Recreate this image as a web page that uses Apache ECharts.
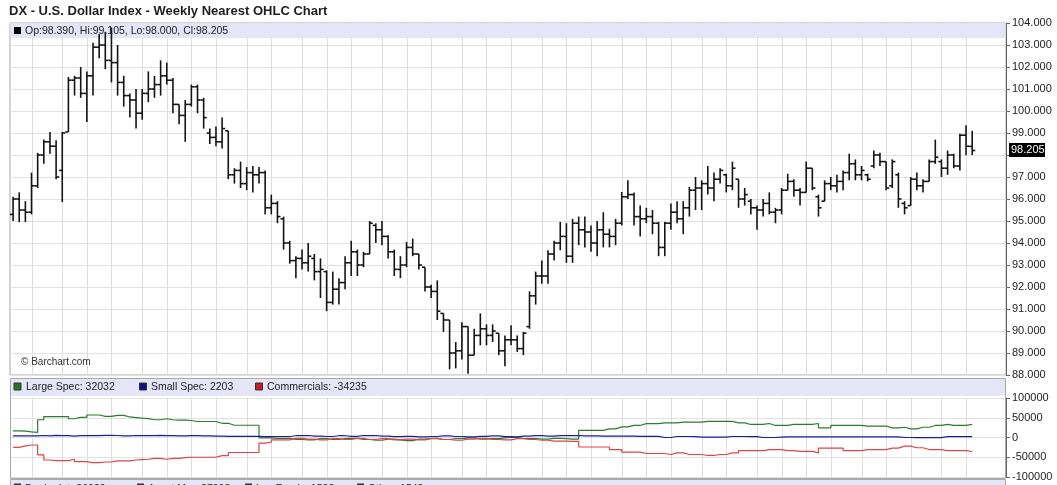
<!DOCTYPE html>
<html>
<head>
    <meta charset="utf-8">
    <title>DX - U.S. Dollar Index - Weekly Nearest OHLC Chart</title>
    <script type="text/javascript" src="https://cdn.jsdelivr.net/npm/echarts/dist/echarts.min.js"></script>
    <style type="text/css">
        html, body { margin: 0; padding: 0; background: #fff; }
        #chart { width: 1057px; height: 485px; }
    </style>
</head>
<body>
<div id="chart"></div>
<script type="text/javascript">
    // weekly bars, first bar = week of 2016-09-12
    let firstWeek = '2016-09-12';
    let emptyWeeks = 5;

    let opens = [
        95.3, 96.0, 95.5, 95.4, 96.6, 98.0, 98.6, 98.4, 97.3, 99.05,
        101.4, 101.5, 100.8, 101.6, 102.9, 103.0, 102.3, 102.2, 101.3, 100.7,
        100.5, 99.9, 100.8, 101.0, 101.2, 101.6, 101.4, 100.3, 99.8, 100.3,
        101.1, 100.5, 99.0, 98.8, 98.6, 99.1, 97.1, 97.3, 96.7, 97.2,
        97.1, 97.2, 95.6, 95.8, 95.1, 94.0, 93.2, 93.3, 93.1, 93.3,
        92.7, 92.7, 91.3, 91.9, 92.2, 93.1, 93.6, 93.0, 93.5, 94.8,
        94.6, 94.3, 93.6, 92.8, 93.0, 93.8, 93.5, 92.9, 92.0, 91.8,
        90.8, 90.5, 89.0, 89.1, 90.2, 88.9, 89.8, 90.1, 89.8, 89.9,
        89.1, 89.6, 89.6, 89.2, 90.2, 91.6, 92.5, 92.5, 93.5, 94.0,
        94.3, 93.4, 94.9, 94.6, 94.5, 94.0, 94.6, 94.4, 94.3, 94.9,
        96.1, 96.2, 95.2, 95.1, 95.2, 94.9, 93.8, 94.9, 95.4, 95.1,
        95.6, 96.4, 96.5, 96.7, 96.5, 96.9, 97.1, 96.6, 96.9, 96.0,
        95.9, 95.6, 95.5, 95.8, 95.4, 95.5, 96.4, 96.8, 96.4, 96.3,
        97.4, 96.1, 95.9, 96.7, 96.6, 96.8, 97.2, 97.6, 97.1, 97.1,
        97.5, 98.0, 97.7, 96.6, 97.1, 95.8, 95.7, 96.9, 96.6, 96.8,
        97.7, 97.7, 97.4, 98.0, 97.5, 98.9, 98.39
    ];
    let highs = [
        96.1, 96.3, 95.9, 97.2, 98.1, 98.7, 99.05, 98.67, 99.05, 101.55,
        101.6, 102.0, 101.8, 103.1, 103.5, 103.6, 103.8, 103.0, 101.6, 100.8,
        101.0, 101.0, 101.8, 101.6, 102.3, 102.2, 101.5, 100.3, 100.5, 101.2,
        101.2, 100.6, 99.2, 99.3, 99.7, 99.1, 97.4, 97.7, 97.45, 97.5,
        97.45, 97.3, 96.2, 95.9, 95.2, 94.1, 93.4, 93.7, 94.0, 93.5,
        93.3, 92.75, 92.7, 92.4, 93.4, 94.1, 93.7, 93.6, 95.0, 94.9,
        95.0, 94.35, 93.7, 93.4, 94.05, 94.2, 93.5, 92.9, 92.1, 92.3,
        90.8, 90.5, 89.5, 90.4, 90.2, 90.1, 90.8, 90.3, 90.3, 89.9,
        89.8, 90.26, 89.8, 89.96, 91.8, 92.7, 93.2, 93.67, 94.1, 94.96,
        94.9, 95.1, 95.2, 95.2, 94.8, 95.0, 95.4, 94.65, 95.1, 96.32,
        96.85, 96.3, 95.7, 95.6, 95.5, 94.96, 94.96, 95.8, 95.9, 95.9,
        96.55, 97.0, 96.85, 97.5, 97.2, 97.4, 97.15, 97.7, 96.9, 96.5,
        96.0, 95.7, 96.0, 96.3, 95.6, 96.5, 97.15, 96.9, 96.5, 97.7,
        97.4, 96.2, 96.85, 97.0, 97.1, 97.3, 98.06, 97.8, 97.5, 97.15,
        98.2, 98.1, 97.7, 97.8, 97.2, 95.9, 97.0, 97.2, 96.9, 97.8,
        98.7, 97.8, 98.2, 98.06, 98.97, 99.35, 99.105
    ];
    let lows = [
        95.0, 94.95, 94.95, 95.3, 96.5, 97.6, 98.06, 96.9, 95.86, 99.05,
        100.7, 100.6, 99.5, 100.7, 102.4, 101.9, 101.3, 100.7, 100.2, 99.7,
        99.2, 99.6, 100.4, 100.6, 100.7, 101.2, 99.9, 99.4, 98.6, 100.2,
        99.9, 99.2, 98.5, 98.4, 98.3, 96.9, 96.7, 96.5, 96.4, 96.3,
        96.7, 95.3, 95.3, 94.9, 93.7, 93.06, 92.4, 92.8, 92.7, 92.3,
        91.5, 90.9, 91.2, 91.2, 91.9, 92.5, 92.5, 92.9, 93.5, 94.0,
        93.9, 93.3, 92.5, 92.4, 92.9, 93.4, 92.8, 91.8, 91.5, 90.5,
        89.96, 88.26, 88.3, 88.7, 88.06, 88.9, 89.35, 89.35, 89.5, 88.9,
        88.4, 89.35, 89.05, 88.9, 90.1, 91.2, 92.15, 92.15, 93.2, 93.67,
        93.1, 93.1, 93.9, 93.8, 93.6, 93.4, 93.8, 93.8, 93.9, 94.8,
        96.0, 94.8, 94.3, 94.9, 94.4, 93.4, 93.4, 94.6, 94.9, 94.4,
        95.2, 95.5, 95.5, 96.2, 95.9, 96.7, 96.3, 96.4, 95.6, 95.7,
        95.3, 94.6, 95.2, 95.3, 94.9, 95.3, 96.4, 96.1, 95.7, 96.3,
        96.4, 95.2, 95.9, 96.4, 96.3, 96.4, 96.85, 96.85, 96.85, 96.8,
        97.4, 97.5, 96.4, 96.5, 95.6, 95.3, 95.7, 96.4, 96.3, 96.8,
        97.6, 97.0, 97.1, 97.4, 97.3, 97.99, 98.0
    ];
    let closes = [
        96.0, 95.5, 95.4, 96.6, 98.0, 98.6, 98.4, 97.0, 99.0, 101.4,
        101.5, 100.8, 101.6, 102.9, 103.0, 102.3, 102.2, 101.3, 100.7, 100.5,
        99.9, 100.8, 101.0, 101.2, 101.6, 101.4, 100.3, 99.8, 100.3, 101.1,
        100.5, 99.7, 98.8, 98.6, 99.2, 97.1, 97.3, 96.7, 97.2, 97.1,
        97.2, 95.6, 95.8, 95.2, 94.0, 93.2, 93.3, 93.1, 93.4, 92.7,
        92.8, 91.3, 91.9, 92.2, 93.1, 93.6, 93.0, 93.5, 94.9, 94.6,
        94.3, 93.6, 92.8, 93.0, 93.8, 93.5, 93.0, 92.0, 91.8, 90.9,
        90.5, 89.0, 89.1, 90.2, 88.9, 89.8, 90.1, 89.8, 90.0, 89.1,
        89.6, 89.6, 89.2, 89.9, 91.6, 92.5, 92.5, 93.5, 94.0, 94.3,
        93.4, 94.9, 94.6, 94.5, 94.0, 94.6, 94.4, 94.3, 94.9, 96.1,
        96.2, 95.2, 95.1, 95.2, 94.9, 93.8, 94.9, 95.4, 95.1, 95.6,
        96.4, 96.5, 96.7, 96.5, 96.9, 97.3, 96.6, 97.4, 96.0, 96.2,
        95.6, 95.5, 95.8, 95.4, 95.5, 96.4, 96.8, 96.4, 96.3, 97.4,
        96.5, 95.6, 96.7, 96.6, 96.8, 97.2, 97.6, 97.1, 97.3, 96.9,
        98.0, 97.7, 96.5, 97.7, 96.0, 95.6, 96.9, 96.6, 96.8, 97.7,
        97.9, 97.4, 98.0, 97.5, 98.9, 98.4, 98.205
    ];

    // COT net positions, weekly
    let largeSpec = [
        17000, 16000, 14000, 13000, 45000, 53000, 53000, 53000, 53000, 47500,
        51000, 51000, 57000, 57000, 53500, 53500, 56000, 56000, 52000, 50500,
        49000, 48000, 45000, 45000, 47500, 45000, 44000, 44000, 43000, 40500,
        40500, 40500, 40500, 36000, 36000, 31000, 31000, 31000, 31000, 31000,
        -1000, -1000, -2000, -2000, -2000, -5000, -5000, -6000, -6000, -3000,
        -3000, -5000, -5000, -3000, -2000, -2000, -5000, -5000, -7000, -7000,
        -4000, -4000, -6000, -8000, -8000, -4000, -4000, -2000, -2000, -5000,
        -5000, -3000, -3000, -1000, -1000, -4000, -4000, -3000, -3000, -1000,
        0, 0, -2000, -3000, -3000, -4000, -4000, -2000, -2000, -3000,
        -4000, -4000, 18000, 18000, 18000, 18000, 22000, 22000, 27000, 27000,
        30500, 30500, 35000, 35000, 35000, 37000, 37000, 37000, 39000, 39000,
        39000, 39000, 41000, 41000, 41000, 41000, 41000, 37000, 37000, 33000,
        33000, 33000, 35500, 30500, 30500, 30500, 33000, 33000, 33000, 33000,
        35500, 24500, 24500, 30500, 30500, 30500, 30500, 30500, 29000, 29000,
        29000, 29000, 24500, 24500, 26000, 22000, 22000, 26000, 26000, 30500,
        30500, 33000, 30500, 30500, 30500, 33000, 32032
    ];
    let smallSpec = [
        4000, 4000, 4000, 4000, 5000, 4000, 5500, 4500, 4500, 3500,
        4500, 5000, 5000, 4500, 5500, 5500, 5000, 4000, 4000, 5000,
        5000, 4500, 4500, 5500, 4500, 4500, 4000, 4000, 4500, 4500,
        4000, 4000, 3500, 3500, 3000, 3000, 3000, 3000, 3000, 3000,
        2000, 2000, 2500, 2500, 2500, 4500, 4500, 5000, 3500, 3500,
        2500, 2500, 4500, 4500, 3000, 3000, 5000, 5000, 5000, 3500,
        3500, 2000, 2000, 3000, 3000, 1500, 1500, 2500, 2500, 4000,
        4000, 2500, 2500, 1500, 1500, 3000, 3000, 4000, 4000, 2000,
        2000, 1500, 3500, 3500, 4500, 4500, 3500, 3500, 4500, 4500,
        5000, 5000, 4000, 4000, 4000, 3500, 3500, 3500, 3500, 3500,
        3500, 3000, 3000, 3000, 3000, 0, 0, 2500, 2500, 2500,
        2000, 1000, 1000, 1000, 1000, 1000, 2500, 2500, 2500, 2000,
        2000, 0, 0, 0, 1000, 1500, 1500, 1500, 1500, 1500,
        1500, 1500, 1500, 1500, 1500, 1500, 1500, 1500, 1500, 1500,
        1500, 1500, 1500, 1500, 0, 0, -500, -500, -500, -500,
        -500, 2200, 2200, 2200, 2200, 2200, 2203
    ];
    let commercials = [
        -25000, -21000, -19000, -19000, -44000, -57000, -58500, -58500, -58500, -55000,
        -61000, -61000, -63500, -63500, -62000, -62000, -59000, -59000, -59000, -57000,
        -56000, -55000, -53000, -53000, -55000, -53000, -53000, -51000, -50000, -50000,
        -50000, -50000, -50000, -46000, -46000, -38000, -38000, -38000, -38000, -38000,
        -14000, -12000, -6000, -6000, -6000, -2000, -2000, -4000, -4000, -6000,
        -6000, -3000, -3000, -5000, -5000, -2000, -2000, -5000, -5000, -3000,
        -3000, -6000, -6000, -4000, -4000, -6000, -6000, -3000, -3000, -5000,
        -5000, -7000, -7000, -4000, -4000, -2000, -2000, -5000, -5000, -6000,
        -6000, -3000, -3000, -5000, -5000, -7000, -7000, -9000, -9000, -9000,
        -10000, -10000, -24000, -24000, -24000, -24000, -24000, -30500, -30500, -37000,
        -37000, -37000, -40500, -40500, -40500, -40500, -43000, -39000, -39000, -43000,
        -43000, -43000, -45500, -45500, -43000, -43000, -39000, -39000, -33000, -33000,
        -33000, -33000, -30500, -30500, -30500, -33000, -33000, -35000, -35000, -35000,
        -39000, -27000, -27000, -27000, -27000, -33000, -33000, -33000, -30500, -30500,
        -30500, -30500, -27000, -27000, -22000, -22000, -26000, -26000, -30500, -30500,
        -30500, -33000, -33000, -33000, -33000, -35500, -34235
    ];

    let priceTicks = {min: 88, max: 104, interval: 1};
    let cotTicks = {min: -100000, max: 100000, interval: 50000};
    // third panel is cut off by the bottom edge, only the tops of its legend show
    let cutPanelLabels = ['Dealer Int: 36009', 'Asset Mgr: 27998', 'Lev Funds: 1522', 'Other: 1540'];

    // week labels (mondays)
    let weeks = [];
    let t0 = Date.parse(firstWeek + 'T00:00:00Z');
    for (let k = 0; k < opens.length + emptyWeeks; k++) {
        weeks.push(new Date(t0 + k * 7 * 86400000).toISOString().slice(0, 10));
    }
    // first bar of each month gets a vertical grid line
    let monthStarts = [];
    for (let k = 1; k < opens.length; k++) {
        if (weeks[k].slice(5, 7) !== weeks[k - 1].slice(5, 7)) monthStarts.push(k);
    }

    let last = opens.length - 1;
    let FONT = '"Liberation Sans", Arial, Helvetica, sans-serif';

    let ohlcData = opens.map(function (o, i) { return [i, o, highs[i], lows[i], closes[i]]; });

    function renderBar(params, api) {
        let i = api.value(0);
        let x = api.coord([i, api.value(1)])[0];
        let yO = api.coord([i, api.value(1)])[1];
        let yH = api.coord([i, api.value(2)])[1];
        let yL = api.coord([i, api.value(3)])[1];
        let yC = api.coord([i, api.value(4)])[1];
        let tick = api.size([1, 0])[0] * 0.5;
        let st = {stroke: '#141414', lineWidth: 1.6};
        return {type: 'group', children: [
            {type: 'line', shape: {x1: x, y1: yH, x2: x, y2: yL}, style: st},
            {type: 'line', shape: {x1: x - tick, y1: yO, x2: x, y2: yO}, style: st},
            {type: 'line', shape: {x1: x, y1: yC, x2: x + tick, y2: yC}, style: st}
        ]};
    }

    function renderMonthLine(params, api) {
        let cs = params.coordSys;
        let x = Math.round(api.coord([api.value(0), 0])[0]) + 0.5;
        return {type: 'line', shape: {x1: x, y1: cs.y, x2: x, y2: cs.y + cs.height},
            style: {stroke: '#dddddd', lineWidth: 1}};
    }

    function renderLastLabel(params, api) {
        let cs = params.coordSys;
        let y = api.coord([api.value(0), api.value(1)])[1];
        let x = cs.x + cs.width + 3;
        return {type: 'group', children: [
            {type: 'rect', shape: {x: x, y: Math.round(y) - 7, width: 36, height: 14}, style: {fill: '#000'}},
            {type: 'text', x: x + 2, y: Math.round(y), style: {text: api.value(1).toFixed(3), fill: '#fff',
                fontSize: 11, fontFamily: FONT, textVerticalAlign: 'middle', verticalAlign: 'middle'}}
        ]};
    }

    function txt(x, y, s, size, color, weight) {
        return {type: 'text', z: 4, x: x, y: y, style: {text: s, fill: color || '#222', fontSize: size || 10.5,
            fontFamily: FONT, fontWeight: weight || 'normal', textVerticalAlign: 'middle', verticalAlign: 'middle'}};
    }
    function box(x, y, w, h, fill, stroke, z) {
        return {type: 'rect', z: z || 3, shape: {x: x, y: y, width: w, height: h},
            style: {fill: fill, stroke: stroke || null, lineWidth: 1}};
    }

    let header = 'Op:' + opens[last].toFixed(3) + ', Hi:' + highs[last].toFixed(3) +
        ', Lo:' + lows[last].toFixed(3) + ', Cl:' + closes[last].toFixed(3);

    let graphics = [
        txt(9, 11, 'DX - U.S. Dollar Index - Weekly Nearest OHLC Chart', 13, '#1e1e1e', 'bold'),
        box(10.5, 23.5, 995, 14.5, '#e4e6f8'),
        box(14, 27, 7, 7, '#000', null, 4),
        txt(25, 31, header),
        txt(21, 362, '\u00a9 Barchart.com', 10, '#333'),
        // lower panel frame + legend strip
        box(10.5, 378.5, 995, 100, 'rgba(0,0,0,0)', '#aaaaaa', 2),
        box(11, 379, 994, 17, '#e4e6f8'),
        box(14, 383, 7, 7, '#1f7a1f', '#333', 4),
        txt(26, 387, 'Large Spec: ' + largeSpec[last]),
        box(139.5, 383, 7, 7, '#10108a', '#333', 4),
        txt(151, 387, 'Small Spec: ' + smallSpec[last]),
        box(255.5, 383, 7, 7, '#c81e1e', '#333', 4),
        txt(267, 387, 'Commercials: ' + commercials[last]),
        // next panel, cut by the bottom edge
        box(10.5, 479.5, 995, 12, '#e4e6f8', '#aaaaaa')
    ];
    let cutX = [14, 137, 245, 357];
    cutPanelLabels.forEach(function (s, k) {
        graphics.push(box(cutX[k], 483.5, 7, 7, '#333', null, 4));
        graphics.push(txt(cutX[k] + 11, 489, s));
    });

    let chart = echarts.init(document.getElementById('chart'), null, {renderer: 'canvas'});

    let axisLabelStyle = {color: '#222', fontSize: 11, fontFamily: FONT, margin: 6};

    chart.setOption({
        animation: false,
        backgroundColor: '#fff',
        graphic: graphics,
        grid: [
            {left: 10, right: 51, top: 23, bottom: 110, show: true, borderColor: '#aaaaaa', borderWidth: 1},
            {left: 10, right: 51, top: 398, bottom: 8}
        ],
        xAxis: [
            {type: 'category', gridIndex: 0, data: weeks, boundaryGap: true,
                axisLine: {show: false}, axisTick: {show: false}, axisLabel: {show: false}, splitLine: {show: false}},
            {type: 'category', gridIndex: 1, data: weeks, boundaryGap: true,
                axisLine: {show: false}, axisTick: {show: false}, axisLabel: {show: false}, splitLine: {show: false}}
        ],
        yAxis: [
            {type: 'value', gridIndex: 0, position: 'right', min: priceTicks.min, max: priceTicks.max,
                interval: priceTicks.interval,
                axisLine: {show: true, lineStyle: {color: '#666'}},
                axisTick: {show: true, length: 4, lineStyle: {color: '#666'}},
                axisLabel: Object.assign({showMinLabel: true, showMaxLabel: true, formatter: function (v) {
                    return Math.abs(v - closes[last]) < 0.5 ? '' : v.toFixed(3);
                }}, axisLabelStyle),
                splitLine: {show: true, lineStyle: {color: '#e2e2e2', width: 1}}},
            {type: 'value', gridIndex: 1, position: 'right', min: cotTicks.min, max: cotTicks.max,
                interval: cotTicks.interval,
                axisLine: {show: true, lineStyle: {color: '#666'}},
                axisTick: {show: true, length: 4, lineStyle: {color: '#666'}},
                axisLabel: Object.assign({showMinLabel: true, showMaxLabel: true, formatter: function (v) {
                    return String(v);
                }}, axisLabelStyle),
                splitLine: {show: true, lineStyle: {color: '#e2e2e2', width: 1}}}
        ],
        series: [
            {type: 'custom', name: 'months', xAxisIndex: 0, yAxisIndex: 0, z: 1, silent: true, clip: false,
                renderItem: renderMonthLine, data: monthStarts.map(function (i) { return [i]; })},
            {type: 'custom', name: 'months2', xAxisIndex: 1, yAxisIndex: 1, z: 1, silent: true, clip: false,
                renderItem: renderMonthLine, data: monthStarts.map(function (i) { return [i]; })},
            {type: 'custom', name: 'DX', xAxisIndex: 0, yAxisIndex: 0, z: 5, silent: true,
                renderItem: renderBar, encode: {x: 0, y: [1, 2, 3, 4]}, data: ohlcData},
            {type: 'custom', name: 'last', xAxisIndex: 0, yAxisIndex: 0, z: 6, silent: true, clip: false,
                renderItem: renderLastLabel, data: [[last, closes[last]]]},
            {type: 'line', name: 'Large Spec', xAxisIndex: 1, yAxisIndex: 1, step: 'end', showSymbol: false,
                z: 4, lineStyle: {color: '#2a7d2a', width: 1.2}, data: largeSpec},
            {type: 'line', name: 'Commercials', xAxisIndex: 1, yAxisIndex: 1, step: 'end', showSymbol: false,
                z: 4, lineStyle: {color: '#e04444', width: 1.2}, data: commercials},
            {type: 'line', name: 'Small Spec', xAxisIndex: 1, yAxisIndex: 1, step: 'end', showSymbol: false,
                z: 4, lineStyle: {color: '#1c1ca0', width: 1.2}, data: smallSpec}
        ]
    });
</script>
</body>
</html>
